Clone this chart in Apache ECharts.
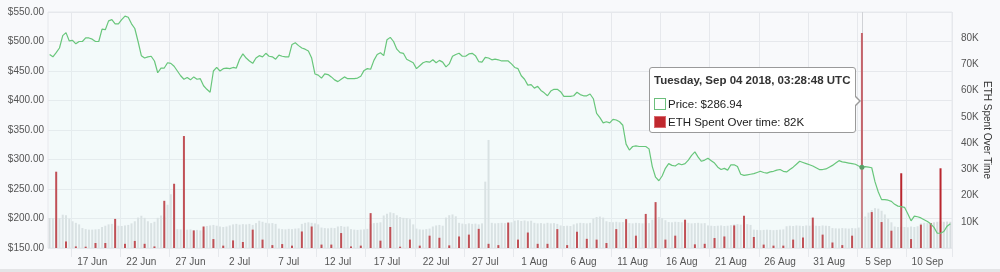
<!DOCTYPE html>
<html><head><meta charset="utf-8">
<script src="https://cdn.jsdelivr.net/npm/echarts@6/dist/echarts.min.js"></script>
<style>
html,body{margin:0;padding:0;background:#f8f9fb;}
#c{width:1000px;height:269px;}
#b{width:1000px;height:3px;background:#e4e5e7;}
</style></head><body>
<div id="c"></div><div id="b"></div>
<script>
// ---- data ----
const startTime = Date.UTC(2018, 5, 13, 11, 28, 48); // first 8-hour slot (UTC)
const slotHours = 8;
const price = [
478,474,481,489,510,515,501,502,496,500,
500,506,506,504,500,500,521,520,535,537,
530,530,537,543,541,530,522,500,476,472,
474,475,467,447,455,455,464,463,458,450,
442,436,439,435,440,436,437,425,419,414,
450,456,450,454,455,454,456,455,470,479,
472,467,463,472,476,474,480,475,474,470,
477,475,474,474,495,498,493,489,487,484,
472,445,443,438,445,444,440,435,432,436,
440,437,437,437,438,441,451,454,453,468,
478,481,476,503,507,500,487,481,480,470,
467,464,454,459,464,466,465,469,464,468,
465,457,462,475,478,480,475,475,479,480,
476,466,465,473,472,469,470,469,467,467,
467,462,456,454,442,436,426,427,421,424,
417,413,408,416,419,419,415,407,407,407,
408,414,410,408,408,411,403,378,371,362,
364,362,368,367,364,358,326,316,322,323,
322,322,322,318,288,270,264,272,285,293,
290,289,293,291,293,299,307,313,304,297,
299,302,298,294,287,283,285,282,291,291,
288,275,273,274,275,276,278,280,278,277,
279,280,282,283,280,279,283,287,292,297,
295,293,291,289,286,283,283,284,287,290,
294,298,296,295,294,293,292,289,286.94,288,
287,286,262,245,232,232,231,229,224,221,
220,219,208,196,204,203,201,198,195,191,
185,175,175,178,187,191
];
// background activity bars (thousands), one per 8-hour slot
const activity = [
11.4,11.4,11.2,11.4,12.7,12.5,11.2,10.2,9.6,9.0,
7.6,7.2,7.0,7.0,7.1,7.2,8.0,8.5,9.0,9.2,
8.6,8.5,8.4,8.6,8.8,9.4,10.2,11.6,12.3,11.5,
10.2,9.5,10.0,11.5,12.4,12.0,16.5,20.5,22.0,7.2,
7.1,7.2,7.0,7.1,6.8,6.9,6.7,6.8,8.4,8.6,
8.8,8.5,8.2,8.0,8.2,8.6,9.0,9.2,8.9,9.1,
9.0,9.2,8.8,9.5,10.4,10.0,9.6,9.4,9.5,9.2,
7.4,7.2,7.1,7.3,7.2,7.4,7.5,9.2,9.6,9.8,
9.6,9.4,9.0,7.8,7.6,7.5,7.7,7.6,8.2,8.4,
8.1,8.2,7.2,7.0,6.9,7.0,7.1,7.3,9.2,9.5,
9.6,9.8,12.4,13.1,13.6,13.3,12.5,11.8,11.5,11.4,
11.0,9.0,7.4,7.1,7.0,7.2,7.4,8.2,8.6,8.8,
8.5,11.6,12.5,12.8,12.1,9.6,9.3,9.1,9.4,9.2,
9.3,9.0,9.4,25.3,41.2,9.6,9.4,9.5,9.6,9.5,
9.6,9.8,10.4,10.6,10.3,10.5,10.2,10.4,9.6,9.4,
9.5,9.3,9.6,9.4,9.5,9.2,8.6,8.4,8.5,8.4,
9.0,9.4,9.6,9.5,9.4,9.6,11.2,11.8,12.0,11.6,
10.2,9.9,9.8,10.0,9.8,9.9,9.7,9.5,9.4,9.6,
9.5,9.4,9.6,9.5,10.8,11.5,11.8,11.4,10.6,9.9,
9.8,10.0,9.9,9.8,10.0,9.6,9.4,9.5,9.6,9.4,
9.5,8.6,8.5,8.4,8.5,8.6,8.4,8.5,8.7,9.0,
9.1,8.9,9.0,9.1,8.8,7.0,6.9,6.8,6.9,7.0,
6.9,6.8,6.9,7.0,7.1,8.3,8.5,8.4,8.6,8.5,
8.4,8.6,8.5,8.7,8.5,8.4,8.6,8.5,8.4,7.6,
7.5,7.4,7.6,7.5,7.4,7.6,7.5,7.8,8.0,12.0,
13.5,14.5,15.2,15.0,14.2,12.8,11.2,9.8,8.2,8.0,
8.1,8.0,7.9,8.2,8.0,8.3,9.4,9.6,9.5,9.4,
9.8,10.0,10.2,10.0,10.1,10.0
];
// ETH spent (thousands), one per day at 03:28:48 UTC, from 14 Jun
const ethSpent = [
29.1,2.5,0.6,0.5,1.9,1.9,11.1,1.6,2.7,1.6,
0.6,18,24.5,42.7,6.7,8.2,3.4,0.9,2.9,2.3,
7.0,3.2,1.1,1.5,0.9,6.3,8.2,1.3,1.3,5.7,
0.6,0.9,13.3,2.8,8.0,0.5,3.2,0.9,4.7,3.9,
1.0,4.4,5.1,7.3,1.6,1.1,9.7,3.2,5.9,1.6,
1.6,7.2,1.1,6.2,3.5,3.2,1.9,7.2,11.0,4.7,
13.0,17.5,3.2,4.7,10.8,1.4,1.6,3.8,4.4,8.6,
12.3,4.2,1.3,0.9,0.9,3.2,4.0,11.6,5.1,2.1,
1.1,4.7,82,13.7,9.9,6.6,28.5,3.4,8.9,9.5,
30.4
];
const xTickLabels = ['17 Jun','22 Jun','27 Jun','2 Jul','7 Jul','12 Jul','17 Jul','22 Jul','27 Jul',
  '1 Aug','6 Aug','11 Aug','16 Aug','21 Aug','26 Aug','31 Aug','5 Sep','10 Sep'];
const priceAxis = {min: 150, max: 550, step: 50};
const spentAxis = {min: 0, max: 90, step: 10};

// ---- build ----
const MON = ['Jan','Feb','Mar','Apr','May','Jun','Jul','Aug','Sep','Oct','Nov','Dec'];
const DAYS = ['Sunday','Monday','Tuesday','Wednesday','Thursday','Friday','Saturday'];
const pad = n => String(n).padStart(2, '0');
const times = price.map((_, i) => startTime + i * slotHours * 3600e3);
const categories = times.map(t => new Date(t).toISOString());
const dayLabel = t => { const d = new Date(t); return d.getUTCDate() + ' ' + MON[d.getUTCMonth()]; };
let k = 0;
const spentData = times.map(t => new Date(t).getUTCHours() === 3 && k < ethSpent.length ? ethSpent[k++] : '-');
const labelIdx = [];
times.forEach((t, i) => { if (new Date(t).getUTCHours() === 19 && xTickLabels.includes(dayLabel(t))) labelIdx.push(i); });
const gridIdx = labelIdx.map(i => i - 6);
const maxSpent = Math.max(...ethSpent);
const hoverIndex = spentData.indexOf(maxSpent);

const FONT = '"Liberation Sans", Arial, Helvetica, sans-serif';
const chart = echarts.init(document.getElementById('c'), null, {renderer: 'canvas'});
chart.setOption({
  animation: false,
  backgroundColor: '#f8f9fb',
  textStyle: {fontFamily: FONT},
  grid: {left: 48, right: 48, top: 12, bottom: 21, containLabel: false, outerBoundsMode: 'none',
         show: true, backgroundColor: '#f8f9fb', borderColor: '#e6e8ec', borderWidth: 1},
  tooltip: {
    trigger: 'axis', triggerOn: 'none', alwaysShowContent: true, transitionDuration: 0,
    backgroundColor: '#fff', borderColor: '#9a9a9a', borderWidth: 1, padding: 0,
    extraCssText: 'box-shadow:none;border-radius:3px;overflow:visible;',
    textStyle: {fontFamily: FONT, fontSize: 11.5, color: '#222'},
    axisPointer: {type: 'line', z: 1, lineStyle: {color: '#d0d2d6', width: 1, type: 'solid'}},
    position: (point, params, dom, rect, size) => [point[0] - size.contentSize[0] - 6, 67],
    formatter: params => {
      const i = params[0].dataIndex;
      const d = new Date(times[i]);
      const title = `${DAYS[d.getUTCDay()]}, ${MON[d.getUTCMonth()]} ${pad(d.getUTCDate())} ${d.getUTCFullYear()}, ${pad(d.getUTCHours())}:${pad(d.getUTCMinutes())}:${pad(d.getUTCSeconds())} UTC`;
      const sw = 'display:inline-block;box-sizing:border-box;width:12px;height:12px;vertical-align:-2px;margin-right:2px;';
      return `<div style="position:relative;padding:5px 5px 1px 4px;white-space:nowrap;">
        <div style="font-weight:bold;line-height:14px;margin-bottom:8px;color:#333">${title}</div>
        <div style="line-height:18px"><span style="${sw}border:1px solid #6cbf7c;background:#fff"></span>Price: $${price[i].toFixed(2)}</div>
        <div style="line-height:18px"><span style="${sw}border:1px solid #d96a6f;background:#c0282e"></span>ETH Spent Over time: ${spentData[i]}K</div>
        <div style="position:absolute;right:-6px;top:27px;width:0;height:0;border-top:6px solid transparent;border-bottom:6px solid transparent;border-left:6px solid #9a9a9a"></div>
        <div style="position:absolute;right:-4px;top:28px;width:0;height:0;border-top:5px solid transparent;border-bottom:5px solid transparent;border-left:5px solid #fff"></div>
      </div>`;
    }
  },
  xAxis: {
    type: 'category', data: categories, boundaryGap: true,
    axisLine: {show: false},
    axisTick: {show: true, interval: i => gridIdx.includes(i), length: 9, lineStyle: {color: '#e6e8ec'}},
    splitLine: {show: true, interval: i => gridIdx.includes(i), lineStyle: {color: '#e6e8ec'}},
    axisLabel: {interval: i => labelIdx.includes(i), formatter: v => dayLabel(Date.parse(v)),
                fontSize: 10, color: '#555', margin: 9, fontFamily: FONT},
    axisPointer: {z: 1}
  },
  yAxis: [
    {type: 'value', min: priceAxis.min, max: priceAxis.max, interval: priceAxis.step, position: 'left',
     axisLine: {show: false}, axisTick: {show: false},
     splitLine: {lineStyle: {color: '#e6e8ec'}},
     axisLabel: {formatter: v => '$' + v.toFixed(2), fontSize: 10, color: '#555', margin: 4, fontFamily: FONT}},
    {type: 'value', min: spentAxis.min, max: spentAxis.max, interval: spentAxis.step, position: 'right',
     axisLine: {show: false}, axisTick: {show: false}, splitLine: {show: false},
     axisLabel: {formatter: v => v + 'K', fontSize: 10, color: '#555', margin: 9, showMinLabel: false, showMaxLabel: false, fontFamily: FONT},
     name: 'ETH Spent Over Time', nameLocation: 'middle', nameRotate: -90, nameGap: 30, nameMoveOverlap: false,
     nameTextStyle: {fontSize: 10, color: '#333', fontFamily: FONT}}
  ],
  series: [
    {name: 'Activity', type: 'bar', yAxisIndex: 1, data: activity, barWidth: 2, barGap: '-100%',
     itemStyle: {color: '#d8dbde'}, emphasis: {disabled: true}, silent: true, z: 2},
    {name: 'ETH Spent Over time', type: 'bar', yAxisIndex: 1, data: spentData, barWidth: 2, barGap: '-100%',
     itemStyle: {color: '#b9262e'}, emphasis: {itemStyle: {color: '#c4646b'}}, z: 3},
    {name: 'Price', type: 'line', yAxisIndex: 0, data: price, showSymbol: false, symbol: 'circle', symbolSize: 5,
     lineStyle: {color: '#5fb470', width: 1.2}, itemStyle: {color: '#5a9e68'},
     areaStyle: {color: 'rgba(205,232,226,0.28)'}, emphasis: {scale: false, lineStyle: {width: 1.2}}, z: 4}
  ]
});
chart.dispatchAction({type: 'showTip', seriesIndex: 1, dataIndex: hoverIndex});
</script>
</body></html>
